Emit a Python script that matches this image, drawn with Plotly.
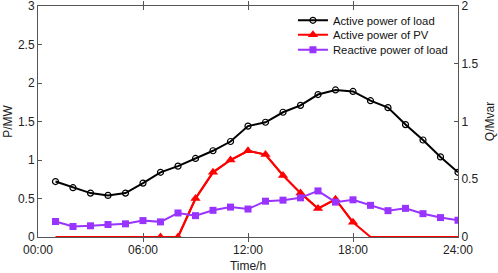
import plotly.graph_objects as go

hours = list(range(1, 25))
load_p = [0.72, 0.64, 0.57, 0.54, 0.57, 0.70, 0.84, 0.92, 1.02, 1.12, 1.24, 1.44,
          1.49, 1.62, 1.71, 1.85, 1.91, 1.89, 1.77, 1.68, 1.46, 1.26, 1.04, 0.84]
pv_p = [0, 0, 0, 0, 0, 0, 0, 0, 0.50, 0.84, 1.00, 1.12,
        1.07, 0.80, 0.57, 0.37, 0.49, 0.19, 0, 0, 0, 0, 0, 0]
pv_marker_hours = list(range(7, 19))
load_q = [0.134, 0.091, 0.097, 0.108, 0.114, 0.142, 0.131, 0.208, 0.185, 0.231, 0.259, 0.242,
          0.310, 0.319, 0.339, 0.399, 0.302, 0.322, 0.274, 0.228, 0.248, 0.202, 0.168, 0.145]
x_tickvals = [0, 6, 12, 18, 24]
x_ticktext = ["00:00", "06:00", "12:00", "18:00", "24:00"]
y1_ticks = [0, 0.5, 1, 1.5, 2, 2.5, 3]
y1_text = ["0", "0.5", "1", "1.5", "2", "2.5", "3"]
y2_ticks = [0, 0.5, 1, 1.5, 2]
y2_text = ["0", "0.5", "1", "1.5", "2"]

FONT = "Liberation Sans, Arial, sans-serif"
AX = "#555555"
RED = "#ff0000"
PURPLE = "#9933ff"

pv_mark_x = [h for h in hours if h in pv_marker_hours]
pv_mark_y = [v for h, v in zip(hours, pv_p) if h in pv_marker_hours]

fig = go.Figure()
fig.add_trace(go.Scatter(
    x=hours, y=load_p, name="Active power of load", mode="lines+markers", legend="legend",
    line=dict(color="black", width=2),
    marker=dict(symbol="circle-open", size=6, color="black", line=dict(width=1.2))))
# full PV line (no markers)
fig.add_trace(go.Scatter(
    x=hours, y=pv_p, mode="lines", showlegend=False, hoverinfo="skip",
    line=dict(color=RED, width=2)))
fig.add_trace(go.Scatter(
    x=pv_mark_x, y=pv_mark_y, name="Active power of PV", mode="lines+markers", legend="legend2",
    line=dict(color=RED, width=2),
    marker=dict(symbol="triangle-up", size=9, color=RED)))
fig.add_trace(go.Scatter(
    x=hours, y=load_q, name="Reactive power of load", mode="lines+markers", yaxis="y2",
    legend="legend3",
    line=dict(color=PURPLE, width=2),
    marker=dict(symbol="square", size=7, color=PURPLE)))

axis_common = dict(showgrid=False, zeroline=False, showline=True, linecolor=AX, linewidth=1,
                   ticks="inside", ticklen=4, tickcolor=AX, automargin=False,
                   ticklabeloverflow="allow",
                   tickfont=dict(size=12, color="#222222"))

def leg(y):
    return dict(x=0.607, y=y, xanchor="left", yanchor="middle",
                bgcolor="rgba(0,0,0,0)", font=dict(size=11.3, color="#111111"),
                itemwidth=30, borderwidth=0)

fig.update_layout(
    width=498, height=273,
    margin=dict(l=38, r=40, t=6, b=36),
    paper_bgcolor="white", plot_bgcolor="white",
    font=dict(family=FONT, size=12, color="#222222"),
    showlegend=True,
    legend=leg(0.938), legend2=leg(0.876), legend3=leg(0.811),
    xaxis=dict(range=[0, 24], tickvals=x_tickvals, ticktext=x_ticktext, mirror="allticks",
               ticklabelstandoff=2,
               title=dict(text="Time/h", standoff=5, font=dict(size=12)), **axis_common),
    yaxis=dict(range=[0, 3], tickvals=y1_ticks, ticktext=y1_text,
               title=dict(text="P/MW", standoff=2, font=dict(size=12)), **axis_common),
    yaxis2=dict(range=[0, 2], tickvals=y2_ticks, ticktext=y2_text,
                overlaying="y", side="right",
                title=dict(text="Q/Mvar", standoff=8, font=dict(size=12)), **axis_common),
)
fig.write_html("out.html", config={"displayModeBar": False},
               post_script="document.body.style.margin='0';document.body.style.padding='0';document.body.style.overflow='hidden';")
